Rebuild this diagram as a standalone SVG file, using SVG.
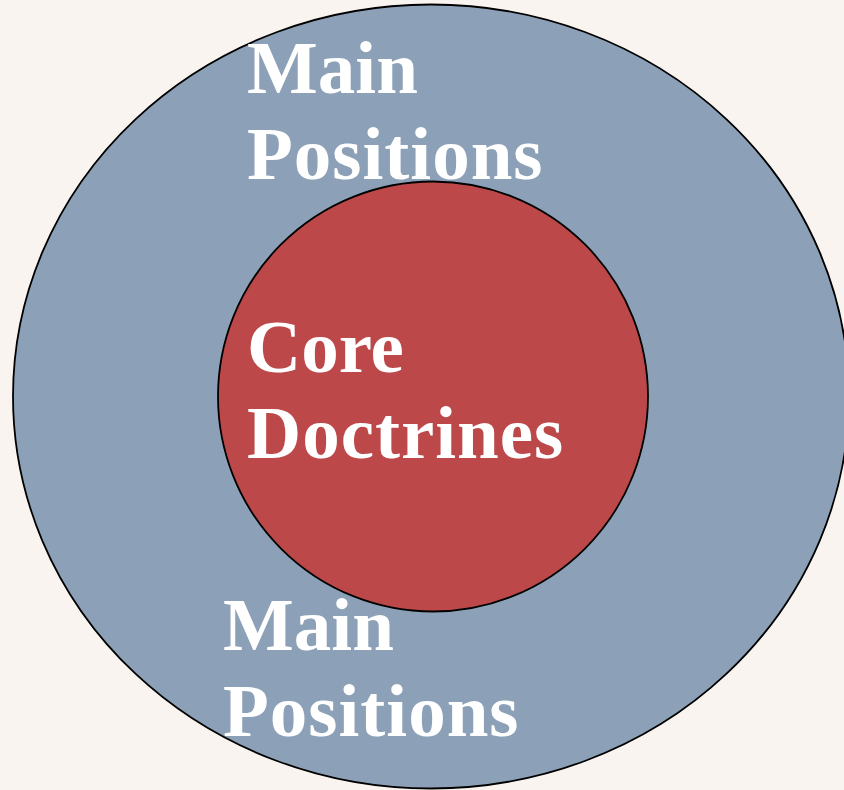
<svg xmlns="http://www.w3.org/2000/svg" width="844" height="790" viewBox="0 0 844 790">
<style>
.lbl{font-family:"Liberation Serif","Times New Roman",serif;font-weight:bold;font-size:75px;fill:#ffffff}
.wide{letter-spacing:1px}
.ring{stroke:#000;stroke-width:1.8}
</style>
<rect x="0" y="0" width="844" height="790" fill="#f9f4f0"/>
<g id="outer">
<ellipse class="ring" cx="431" cy="396.5" rx="418" ry="392" fill="#8ca1b8"/>
<text class="lbl" x="247" y="93">Main</text>
<text class="lbl wide" x="247" y="179">Positions</text>
<text class="lbl" x="223" y="650">Main</text>
<text class="lbl wide" x="223" y="736">Positions</text>
</g>
<g id="core">
<circle class="ring" cx="433" cy="396.5" r="215" fill="#bc484a"/>
<text class="lbl" x="247" y="372">Core</text>
<text class="lbl wide" x="247" y="458">Doctrines</text>
</g>
<g id="connectors"/>
</svg>
